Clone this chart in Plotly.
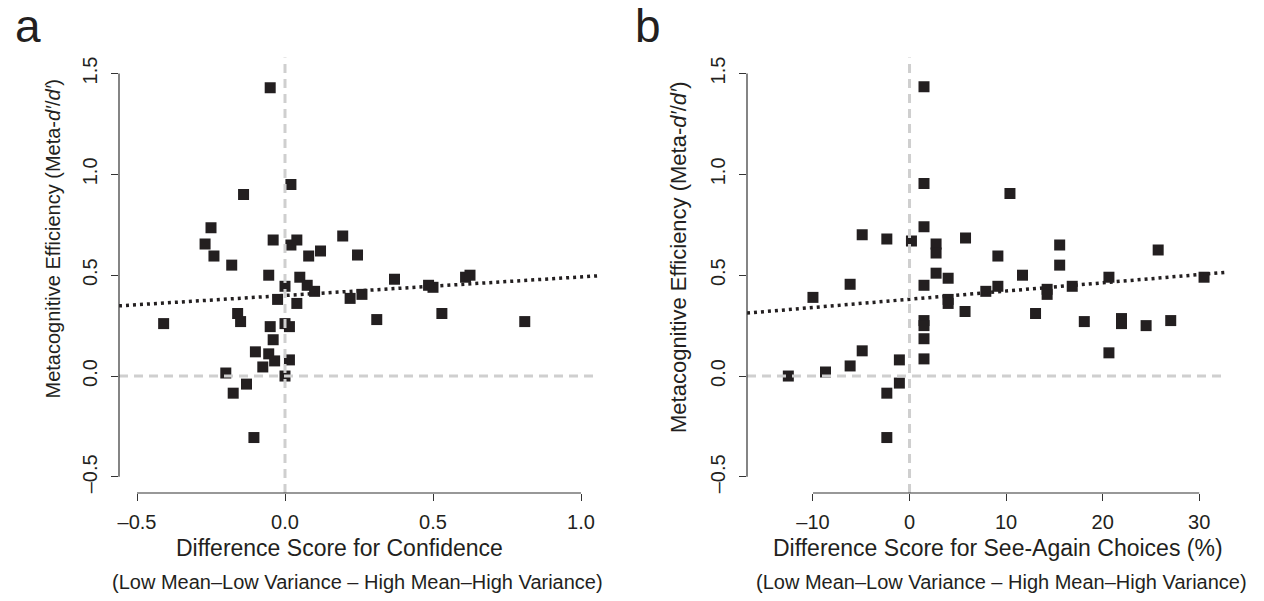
import plotly.graph_objects as go

W, H = 1264, 601

# ---------------- data ----------------
# Panel a: difference score for confidence vs metacognitive efficiency
conf_diff = [-0.05, 0.02, -0.14, -0.25, -0.27, -0.24, -0.18, -0.04, 0.02, 0.04,
             0.08, 0.12, 0.195, -0.055, 0.05, 0.075, 0.10, 0.00, -0.025, 0.04,
             -0.41, -0.16, -0.15, -0.05, 0.00, 0.015, -0.04, -0.10, -0.055, -0.035,
             -0.075, 0.015, -0.20, 0.00, -0.13, -0.175, -0.105, 0.245, 0.37, 0.485,
             0.50, 0.61, 0.625, 0.81, 0.22, 0.26, 0.31, 0.53]
conf_eff = [1.43, 0.95, 0.90, 0.735, 0.655, 0.595, 0.55, 0.675, 0.65, 0.675,
            0.595, 0.62, 0.695, 0.50, 0.49, 0.45, 0.42, 0.445, 0.38, 0.36,
            0.26, 0.31, 0.27, 0.245, 0.26, 0.245, 0.18, 0.12, 0.11, 0.075,
            0.045, 0.08, 0.015, 0.00, -0.04, -0.085, -0.305, 0.60, 0.48, 0.45,
            0.44, 0.49, 0.50, 0.27, 0.385, 0.405, 0.28, 0.31]

# Panel b: difference score for see-again choices (%) vs metacognitive efficiency
see_diff = [1.5, 1.5, 1.5, -4.9, -2.35, 0.2, 2.75, 2.75, 5.8, 2.75,
            4.0, 1.5, -6.15, -10.0, 4.0, 4.0, 5.75, 1.5, 1.5, 1.5,
            -4.9, -1.05, 1.5, -6.15, -8.7, -12.55, -1.05, -2.35, -2.35, 10.4,
            9.15, 15.55, 15.55, 11.7, 25.75, 20.65, 30.5, 7.9, 9.15, 14.25,
            14.25, 16.85, 13.05, 18.1, 21.95, 21.95, 24.5, 27.05, 20.65]
see_eff = [1.435, 0.955, 0.74, 0.70, 0.68, 0.67, 0.655, 0.61, 0.685, 0.51,
           0.485, 0.45, 0.455, 0.39, 0.38, 0.36, 0.32, 0.275, 0.25, 0.185,
           0.125, 0.08, 0.085, 0.05, 0.02, 0.00, -0.035, -0.085, -0.305, 0.905,
           0.595, 0.65, 0.55, 0.50, 0.625, 0.49, 0.49, 0.42, 0.445, 0.43,
           0.405, 0.445, 0.31, 0.27, 0.285, 0.26, 0.25, 0.275, 0.115]

# regression lines (intercept, slope)
fit_a = (0.3995, 0.0919)
fit_b = (0.3807, 0.00408)

# tick values / labels
xticks_a = [-0.5, 0.0, 0.5, 1.0]
xticklabels_a = ["\u20130.5", "0.0", "0.5", "1.0"]
xticks_b = [-10, 0, 10, 20, 30]
xticklabels_b = ["\u201310", "0", "10", "20", "30"]
yticks = [-0.5, 0.0, 0.5, 1.0, 1.5]
yticklabels = ["\u20130.5", "0.0", "0.5", "1.0", "1.5"]

# ---------------- layout helpers ----------------
def fx(p):
    return p / W

def fy(p):
    return 1 - p / H

FONT = "Liberation Sans Narrow, Arial Narrow, Liberation Sans, Arial, sans-serif"
INK = "#231f20"
GRAY = "#cfcfcf"

xr_a = [-0.5608, 1.0608]
xr_b = [-16.83, 32.67]
yr = [-0.58, 1.58]

fig = go.Figure()

# markers
fig.add_trace(go.Scatter(x=conf_diff, y=conf_eff, mode="markers", xaxis="x", yaxis="y",
                         marker=dict(symbol="square", size=11, color=INK, line=dict(width=0))))
fig.add_trace(go.Scatter(x=see_diff, y=see_eff, mode="markers", xaxis="x2", yaxis="y2",
                         marker=dict(symbol="square", size=11, color=INK, line=dict(width=0))))

# regression lines
fig.add_trace(go.Scatter(x=xr_a, y=[fit_a[0] + fit_a[1] * v for v in xr_a], mode="lines",
                         xaxis="x", yaxis="y",
                         line=dict(color=INK, width=3.5, dash="3px,4px")))
fig.add_trace(go.Scatter(x=xr_b, y=[fit_b[0] + fit_b[1] * v for v in xr_b], mode="lines",
                         xaxis="x2", yaxis="y2",
                         line=dict(color=INK, width=3.5, dash="3px,4px")))

shapes = []
for xa, ya, xt in (("x", "y", xticks_a), ("x2", "y2", xticks_b)):
    # dashed reference lines at zero
    shapes.append(dict(type="line", xref=xa, yref=ya + " domain", x0=0, x1=0, y0=0, y1=1,
                       line=dict(color=GRAY, width=3, dash="9px,6px"), layer="above"))
    shapes.append(dict(type="line", xref=xa + " domain", yref=ya, x0=0, x1=1, y0=0, y1=0,
                       line=dict(color=GRAY, width=3, dash="9px,6px"), layer="above"))
    # R-style axis lines spanning only the tick range
    shapes.append(dict(type="line", xref=xa, yref=ya + " domain", x0=xt[0], x1=xt[-1], y0=0, y1=0,
                       line=dict(color="#333333", width=1.2), layer="above"))
    shapes.append(dict(type="line", xref=xa + " domain", yref=ya, x0=0, x1=0, y0=yticks[0], y1=yticks[-1],
                       line=dict(color="#333333", width=1.2), layer="above"))

yd = [fy(493), fy(57.4)]
axis_common = dict(showgrid=False, zeroline=False, showline=False, ticks="outside",
                   ticklen=7, tickwidth=1.2, tickcolor="#333333",
                   tickfont=dict(family=FONT, size=20, color=INK))

fig.update_layout(
    width=W, height=H, autosize=False,
    margin=dict(l=0, r=0, t=0, b=0),
    paper_bgcolor="white", plot_bgcolor="white",
    showlegend=False,
    xaxis=dict(domain=[fx(119), fx(599)], range=xr_a, anchor="y",
               tickvals=xticks_a, ticktext=xticklabels_a, ticklabelstandoff=4, **axis_common),
    yaxis=dict(domain=yd, range=yr, anchor="x",
               tickvals=yticks, ticktext=yticklabels, tickangle=-90, ticklabelstandoff=6, **axis_common),
    xaxis2=dict(domain=[fx(747), fx(1225)], range=xr_b, anchor="y2",
                tickvals=xticks_b, ticktext=xticklabels_b, ticklabelstandoff=4, **axis_common),
    yaxis2=dict(domain=yd, range=yr, anchor="x2",
                tickvals=yticks, ticktext=yticklabels, tickangle=-90, ticklabelstandoff=6, **axis_common),
    shapes=shapes,
)

ann = []
def add_text(text, x, y, size, angle=0, xanchor="center", yanchor="middle"):
    ann.append(dict(text=text, x=fx(x), y=fy(y), xref="paper", yref="paper", showarrow=False,
                    xanchor=xanchor, yanchor=yanchor, textangle=angle,
                    font=dict(family=FONT, size=size, color=INK)))

ylab = "Metacognitive Efficiency (Meta-<i>d\u2032</i>/<i>d\u2032</i>)"
add_text(ylab, 52.5, 239, 20, angle=-90)
add_text(ylab, 678, 258, 22, angle=-90)
add_text("Difference Score for Confidence", 339.5, 548, 23)
add_text("(Low Mean\u2013Low Variance \u2013 High Mean\u2013High Variance)", 357.5, 582, 20)
add_text("Difference Score for See-Again Choices (%)", 997.5, 548, 23)
add_text("(Low Mean\u2013Low Variance \u2013 High Mean\u2013High Variance)", 1001.5, 582, 20)
add_text("a", 13, 26, 46, xanchor="left")
add_text("b", 633, 26, 46, xanchor="left")
fig.update_layout(annotations=ann)

fig.write_html("out.html")
